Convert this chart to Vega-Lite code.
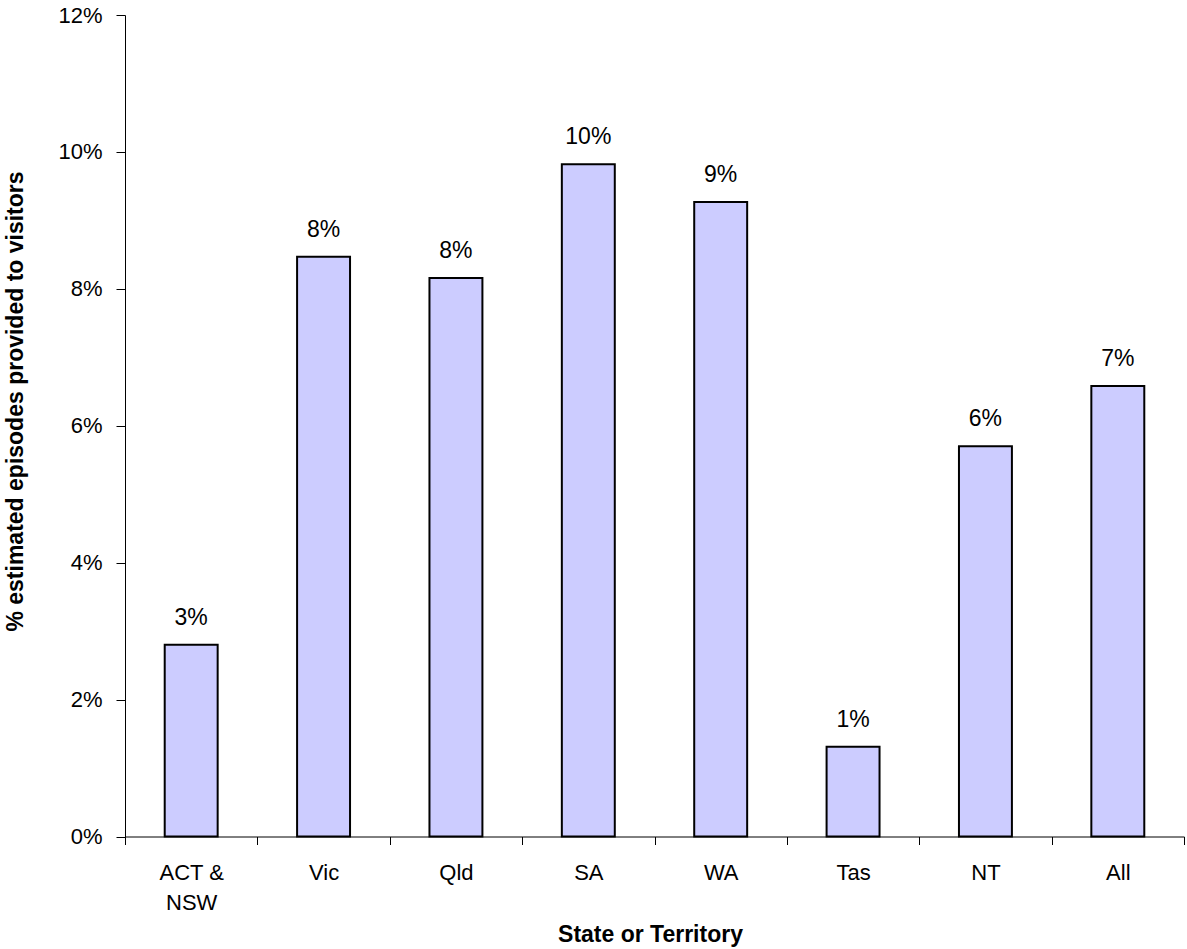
{
  "$schema": "https://vega.github.io/schema/vega-lite/v6.json",
  "width": 1059,
  "height": 821.5,
  "autosize": {"type": "none"},
  "padding": {"left": 125, "top": 15, "right": 3, "bottom": 112.5},
  "background": "white",
  "config": {
    "view": {"stroke": null},
    "font": "Liberation Sans"
  },
  "data": {
    "values": [
      {"state": "ACT & NSW", "share": 0.0280},
      {"state": "Vic", "share": 0.0847},
      {"state": "Qld", "share": 0.0816},
      {"state": "SA", "share": 0.0982},
      {"state": "WA", "share": 0.0927},
      {"state": "Tas", "share": 0.0131},
      {"state": "NT", "share": 0.0570},
      {"state": "All", "share": 0.0658}
    ]
  },
  "encoding": {
    "x": {
      "field": "state",
      "type": "nominal",
      "sort": null,
      "scale": {"paddingInner": 0, "paddingOuter": 0},
      "axis": {
        "title": "State or Territory",
        "titleFont": "Liberation Sans",
        "titleFontSize": 23,
        "titleFontWeight": "bold",
        "titleColor": "black",
        "titleX": 525,
        "titleY": 105,
        "titleBaseline": "alphabetic",
        "titleAlign": "center",
        "labelAngle": 0,
        "labelFont": "Liberation Sans",
        "labelFontSize": 22,
        "labelColor": "black",
        "labelBaseline": "top",
        "labelLineHeight": 30,
        "labelPadding": 18,
        "labelExpr": "datum.value == 'ACT & NSW' ? ['ACT &', 'NSW'] : datum.value",
        "tickBand": "extent",
        "tickSize": 8,
        "tickColor": "black",
        "tickWidth": 1,
        "domainColor": "black",
        "domainWidth": 1,
        "grid": false
      }
    },
    "y": {
      "field": "share",
      "type": "quantitative",
      "scale": {"domain": [0, 0.12], "nice": false},
      "axis": {
        "title": "% estimated episodes  provided to visitors",
        "titleFont": "Liberation Sans",
        "titleFontSize": 23,
        "titleFontWeight": "bold",
        "titleColor": "black",
        "titleAngle": -90,
        "titleX": -103,
        "titleY": 386,
        "titleBaseline": "alphabetic",
        "titleAlign": "center",
        "values": [0, 0.02, 0.04, 0.06, 0.08, 0.1, 0.12],
        "format": ".0%",
        "labelFont": "Liberation Sans",
        "labelFontSize": 22,
        "labelColor": "black",
        "labelPadding": 14,
        "tickSize": 9,
        "tickColor": "black",
        "tickWidth": 1,
        "domainColor": "black",
        "domainWidth": 1,
        "grid": false
      }
    }
  },
  "layer": [
    {
      "mark": {
        "type": "bar",
        "width": {"band": 0.4},
        "fill": "#CCCCFF",
        "stroke": "black",
        "strokeWidth": 2
      }
    },
    {
      "mark": {
        "type": "text",
        "baseline": "alphabetic",
        "align": "center",
        "dy": -20,
        "font": "Liberation Sans",
        "fontSize": 23,
        "color": "black"
      },
      "encoding": {
        "text": {"field": "share", "type": "quantitative", "format": ".0%"}
      }
    }
  ]
}
